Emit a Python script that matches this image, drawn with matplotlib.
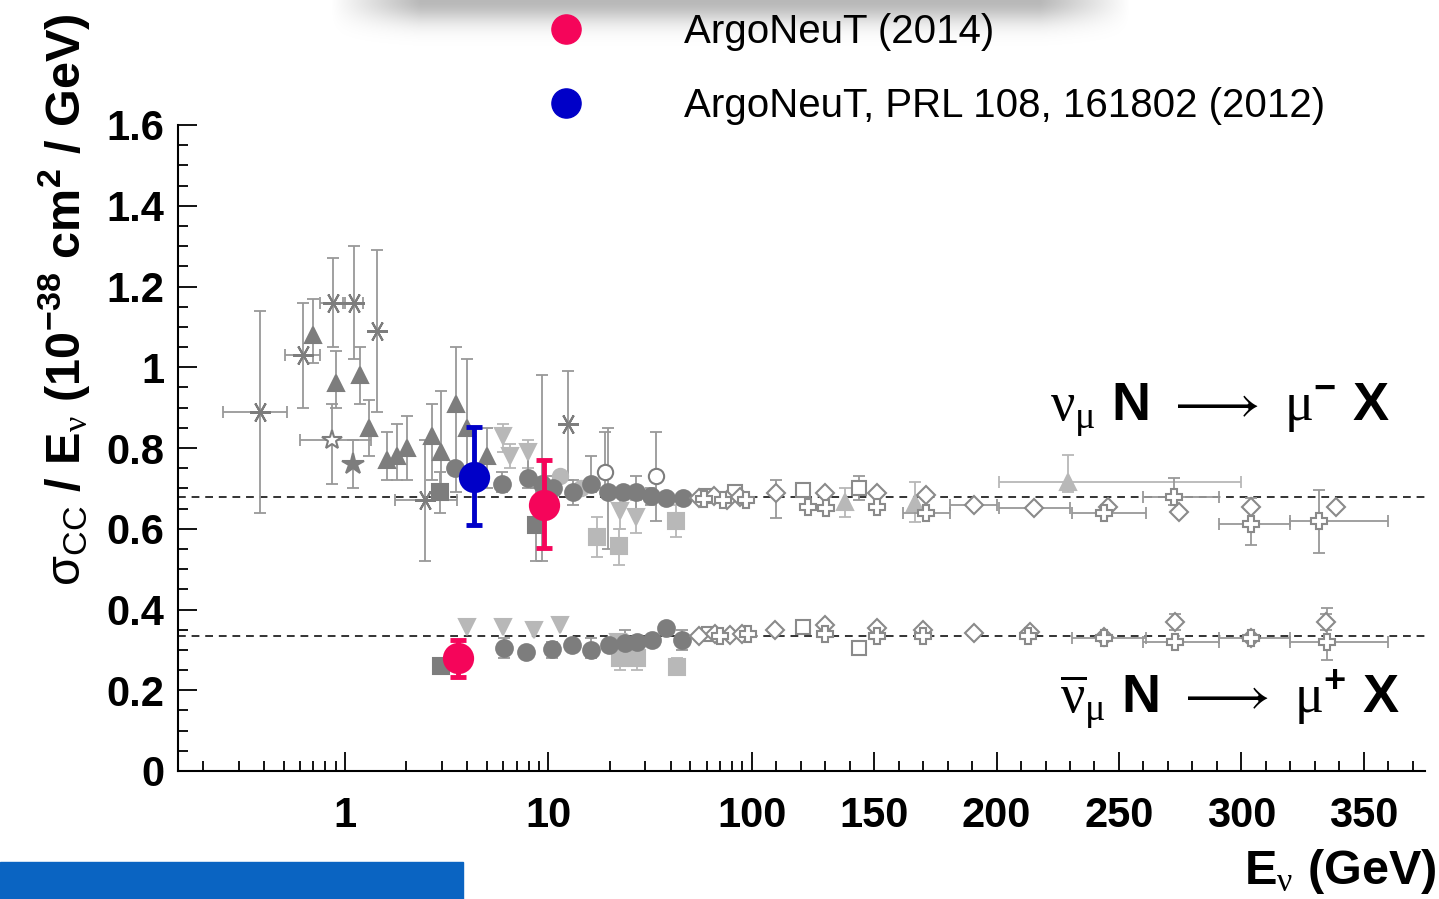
import numpy as np
import matplotlib.pyplot as plt
from matplotlib.lines import Line2D
from matplotlib.patches import Rectangle
from matplotlib.ticker import FixedLocator, FixedFormatter, NullFormatter

plt.rcParams['font.family'] = ['Liberation Sans', 'DejaVu Sans']
plt.rcParams['mathtext.fontset'] = 'custom'
plt.rcParams['mathtext.rm'] = 'Liberation Sans'
plt.rcParams['mathtext.bf'] = 'Liberation Sans:bold'
plt.rcParams['mathtext.it'] = 'Liberation Sans:italic'
plt.rcParams['mathtext.sf'] = 'Liberation Serif'

# rows: E (GeV), sigma/E, y_lo, y_hi, E_lo, E_hi   (None = no error bar)
asterisk_pts = [
    (0.38, 0.89, 0.64, 1.14, 0.25, 0.52),
    (0.62, 1.03, 0.90, 1.16, 0.51, 0.75),
    (0.87, 1.16, 1.05, 1.27, 0.75, 0.98),
    (1.11, 1.16, 1.02, 1.30, 1.00, 1.23),
    (1.43, 1.09, 0.89, 1.29, None, None),
    (2.47, 0.67, 0.52, 0.82, 1.76, 3.54),
    (12.5, 0.86, 0.72, 0.99, None, None),
]
triangle_pts = [
    (0.70, 1.08, 1.01, 1.17), (0.90, 0.96, 0.90, 1.04), (1.19, 0.98, 0.91, 1.05),
    (1.31, 0.85, 0.78, 0.92), (1.61, 0.77, 0.72, 0.84), (1.81, 0.78, 0.72, 0.86),
    (2.01, 0.80, 0.72, 0.88), (2.69, 0.83, 0.72, 0.91), (2.98, 0.79, 0.70, 0.94),
    (3.51, 0.91, 0.69, 1.05), (3.96, 0.85, 0.75, 1.02), (5.0, 0.78, 0.70, 0.85),
]
open_star_pts = [(0.86, 0.82, 0.71, 0.91, 0.60, 1.35)]
star_pts = [(1.10, 0.76, 0.70, 0.82)]
square_pts = [(2.93, 0.69, 0.64, 0.74), (8.66, 0.61, 0.52, 0.70), (2.98, 0.26, 0.25, 0.27)]
circle_pts = [
    (3.47, 0.75), (5.89, 0.71, 0.69, 0.74), (7.96, 0.725, 0.70, 0.80),
    (9.3, 0.71, 0.52, 0.98), (10.6, 0.70, 0.67, 0.73), (13.2, 0.69, 0.66, 0.72),
    (16.3, 0.71, 0.69, 0.78), (19.7, 0.69, 0.55, 0.85), (23.4, 0.69),
    (27.1, 0.69, 0.65, 0.73), (32.0, 0.68, 0.66, 0.70), (38.0, 0.675), (45.8, 0.675),
    (6.05, 0.304, 0.28, 0.33), (7.80, 0.295), (10.4, 0.301, 0.28, 0.32), (13.1, 0.312),
    (16.3, 0.300, 0.28, 0.33), (19.9, 0.312), (23.7, 0.316, 0.29, 0.35), (27.4, 0.320),
    (32.4, 0.324), (37.9, 0.353), (45.2, 0.324, 0.30, 0.35),
]
open_circle_pts = [(18.9, 0.74, 0.70, 0.84), (33.9, 0.73, 0.62, 0.84)]
light_dtri_pts = [
    (6.0, 0.83, 0.79, 0.86), (6.5, 0.78, 0.75, 0.81), (7.95, 0.79, 0.75, 0.82),
    (22.5, 0.645, 0.60, 0.69), (27.1, 0.63, 0.59, 0.67),
    (3.99, 0.357), (5.99, 0.357), (8.51, 0.349), (11.4, 0.362), (22.0, 0.32, 0.29, 0.34),
]
light_square_pts = [
    (17.3, 0.58, 0.53, 0.63), (22.3, 0.557, 0.51, 0.60), (42.4, 0.618, 0.58, 0.66),
    (22.5, 0.279, 0.25, 0.31), (27.4, 0.279, 0.25, 0.31), (42.9, 0.258, 0.24, 0.28),
]
light_circle_pts = [(11.4, 0.73), (14.5, 0.70)]
light_tri_pts = [
    (138, 0.667, 0.63, 0.70), (166.5, 0.663, 0.617, 0.717),
    (229, 0.717, 0.69, 0.783, 201, 300),
]
open_diamond_pts = [
    (55, 0.675), (65, 0.68), (76, 0.672), (88, 0.678), (110, 0.688, 0.627, 0.721),
    (130, 0.688), (151, 0.688), (171, 0.684), (191, 0.659, None, None, 181, 200),
    (215.5, 0.651, None, None, 201, 230), (245.5, 0.655), (274.7, 0.642), (304, 0.655),
    (338.6, 0.655),
    (55, 0.335), (66, 0.34), (78, 0.338), (90, 0.34), (109.4, 0.349), (130, 0.362),
    (151, 0.353), (170, 0.349), (191, 0.341), (213.5, 0.345), (244, 0.333),
    (273, 0.370, 0.35, 0.39), (304, 0.329), (334.6, 0.370, 0.35, 0.39),
]
open_square_pts = [
    (60, 0.68), (83, 0.69), (121, 0.696), (144, 0.70, 0.67, 0.73),
    (62, 0.34), (121, 0.357), (144, 0.304, 0.29, 0.32),
]
open_cross_pts = [
    (58, 0.673), (72, 0.67), (94, 0.67), (123, 0.655), (130.5, 0.651), (151, 0.655),
    (171, 0.638, None, None, 161.8, 180.8), (244, 0.638, None, None, 231, 261),
    (272.6, 0.679, 0.66, 0.725, 260, 291), (304, 0.613, 0.56, 0.675, 291, 320),
    (331.6, 0.618, 0.539, 0.696, 320, 360),
    (70, 0.335), (96, 0.34), (130, 0.34), (151, 0.335), (170, 0.335), (213, 0.335),
    (244, 0.33, None, None, 231, 261), (273, 0.320, None, None, 260, 291),
    (304, 0.329, None, None, 291, 320), (335, 0.320, 0.275, 0.404, 320, 360),
]
argoneut_2014 = [(9.55, 0.659, 0.552, 0.770), (3.60, 0.279, 0.234, 0.324)]
argoneut_2012 = [(4.30, 0.729, 0.609, 0.853)]

iso_nu = 0.678
iso_nubar = 0.334

x_major = [1, 10, 100, 150, 200, 250, 300, 350]
x_major_labels = ['1', '10', '100', '150', '200', '250', '300', '350']
y_major = [0, 0.2, 0.4, 0.6, 0.8, 1.0, 1.2, 1.4, 1.6]
y_major_labels = ['0', '0.2', '0.4', '0.6', '0.8', '1', '1.2', '1.4', '1.6']

DARK = '#7d7d7d'
LIGHT = '#b8b8b8'
PINK = '#f5055a'
BLUE = '#0000c8'

# mixed axis: log up to 100 GeV, then linear
K = 2.45 / 203.5


def fwd(x):
    x = np.asarray(x, dtype=float)
    lg = np.log10(np.clip(x, 1e-3, 100))
    return np.where(x <= 100, lg, 2 + (x - 100) * K)


def inv(u):
    u = np.asarray(u, dtype=float)
    return np.where(u <= 2, 10 ** np.minimum(u, 2), 100 + (u - 2) / K)


def to_array(pts):
    arr = np.full((len(pts), 6), np.nan)
    for i, row in enumerate(pts):
        for j, v in enumerate(row):
            if v is not None:
                arr[i, j] = v
    return arr


def draw(ax, pts, marker, face, edge, ecolor, ms=11, mew=1.5, elw=1.3, cap=4, z=3):
    a = to_array(pts)
    x, y = a[:, 0], a[:, 1]
    m = ~np.isnan(a[:, 2])
    if m.any():
        ax.errorbar(x[m], y[m], yerr=[y[m] - a[m, 2], a[m, 3] - y[m]], fmt='none',
                    ecolor=ecolor, elinewidth=elw, capsize=cap, capthick=elw, zorder=z)
    m = ~np.isnan(a[:, 4])
    if m.any():
        ax.errorbar(x[m], y[m], xerr=[x[m] - a[m, 4], a[m, 5] - x[m]], fmt='none',
                    ecolor=ecolor, elinewidth=elw, capsize=cap, capthick=elw, zorder=z)
    ax.plot(x, y, ls='none', marker=marker, mfc=face, mec=edge, ms=ms, mew=mew, zorder=z + 0.5)


fig = plt.figure(figsize=(14.39, 8.99), dpi=100)
ax = fig.add_axes([178 / 1439, 128 / 899, 1247 / 1439, 646 / 899])
ax.set_xscale('function', functions=(fwd, inv))
ax.set_xlim(0.151, 375)
ax.set_ylim(0, 1.6)

ax.axhline(iso_nu, color='#333333', ls=(0, (4, 3)), lw=1.4, zorder=1)
ax.axhline(iso_nubar, color='#333333', ls=(0, (4, 3)), lw=1.4, zorder=1)

draw(ax, light_square_pts, 's', LIGHT, LIGHT, LIGHT)
draw(ax, light_dtri_pts, 'v', LIGHT, LIGHT, LIGHT)
draw(ax, light_circle_pts, 'o', LIGHT, LIGHT, LIGHT)
draw(ax, light_tri_pts, '^', LIGHT, LIGHT, LIGHT)
draw(ax, asterisk_pts, (6, 2, 30), 'none', DARK, '#999999', ms=15)
draw(ax, triangle_pts, '^', DARK, DARK, '#999999')
draw(ax, open_star_pts, '*', 'white', DARK, '#999999', ms=15)
draw(ax, star_pts, '*', DARK, DARK, '#999999', ms=16)
draw(ax, square_pts, 's', DARK, DARK, '#999999')
draw(ax, circle_pts, 'o', DARK, DARK, '#999999', ms=12)
draw(ax, open_circle_pts, 'o', 'white', DARK, '#999999')
draw(ax, open_square_pts, 's', 'white', '#8a8a8a', '#999999', ms=10)
draw(ax, open_diamond_pts, 'D', 'white', '#8a8a8a', '#999999', ms=9)
draw(ax, open_cross_pts, 'P', 'white', '#8a8a8a', '#999999', ms=11)
draw(ax, argoneut_2012, 'o', BLUE, BLUE, BLUE, ms=21, elw=3.5, cap=6, z=6)
draw(ax, argoneut_2014, 'o', PINK, PINK, PINK, ms=21, elw=3.5, cap=6, z=6)

# axes styling
for s in ['top', 'right']:
    ax.spines[s].set_visible(False)
for s in ['left', 'bottom']:
    ax.spines[s].set_linewidth(1.5)
x_minor = ([v / 10 for v in range(2, 10)] + list(range(2, 10)) + list(range(20, 100, 10))
           + [v for v in range(110, 380, 10) if v % 50])
ax.xaxis.set_major_locator(FixedLocator(x_major))
ax.xaxis.set_major_formatter(FixedFormatter(x_major_labels))
ax.xaxis.set_minor_locator(FixedLocator(x_minor))
ax.xaxis.set_minor_formatter(NullFormatter())
ax.yaxis.set_major_locator(FixedLocator(y_major))
ax.yaxis.set_major_formatter(FixedFormatter(y_major_labels))
ax.yaxis.set_minor_locator(FixedLocator(np.arange(0, 1.6, 0.05)))
ax.tick_params(which='both', direction='in', width=1.3, top=False, right=False)
ax.tick_params(which='major', length=14, labelsize=30)
ax.tick_params(which='minor', length=7)
ax.tick_params(axis='x', which='major', pad=18)
ax.tick_params(axis='y', which='major', pad=10)
for lab in ax.get_xticklabels() + ax.get_yticklabels():
    lab.set_fontweight('bold')

fig.text(64 / 1439, 1 - 300 / 899,
         r'$\mathrm{\sigma_{CC}}$ / E$_{\mathsf{\nu}}$ (10$^{\mathbf{-38}}$ cm$^{\mathbf{2}}$ / GeV)',
         rotation=90, ha='center', va='center', fontsize=35, fontweight='bold')
fig.text(1436 / 1439, 1 - 872 / 899, r'E$_{\mathsf{\nu}}$ (GeV)',
         ha='right', va='center', fontsize=35, fontweight='bold')

fig.text(1390 / 1439, 1 - 410 / 899,
         r'$\mathsf{\nu}_{\mathsf{\mu}}\ \mathbf{N}\ \longrightarrow\ \mathsf{\mu}^{\mathbf{-}}\ \mathbf{X}$',
         ha='right', va='center', fontsize=39)
fig.text(1400 / 1439, 1 - 700 / 899,
         r'$\overline{\mathsf{\nu}}_{\mathsf{\mu}}\ \mathbf{N}\ \longrightarrow\ \mathsf{\mu}^{\mathbf{+}}\ \mathbf{X}$',
         ha='right', va='center', fontsize=39)

handles = [Line2D([], [], ls='none', marker='o', color=PINK, ms=21),
           Line2D([], [], ls='none', marker='o', color=BLUE, ms=21)]
fig.legend(handles, ['ArgoNeuT (2014)', 'ArgoNeuT, PRL 108, 161802 (2012)'],
           loc='upper left', bbox_to_anchor=(546 / 1439, 1 - 13 / 899), frameon=False,
           fontsize=29, handlelength=1.0, handletextpad=2.42, labelspacing=0.9,
           borderpad=0, borderaxespad=0)

# soft shadow of a panel above the chart
sh = fig.add_axes([330 / 1439, 1 - 60 / 899, 800 / 1439, 60 / 899])
sh.axis('off')
yy, xx = np.mgrid[0:60, 0:800]
edge = np.clip(np.minimum(xx, 800 - xx) / 90.0, 0, 1)
alpha = 0.28 * np.exp(-(yy / 22.0) ** 2) * edge
img = np.zeros((60, 800, 4))
img[..., 3] = alpha
sh.imshow(img, aspect='auto', interpolation='bilinear')

fig.patches.append(Rectangle((0, 0), 463 / 1439, 37 / 899, transform=fig.transFigure,
                             color='#0a64c2', zorder=5))

fig.savefig('out.png', dpi=100)
